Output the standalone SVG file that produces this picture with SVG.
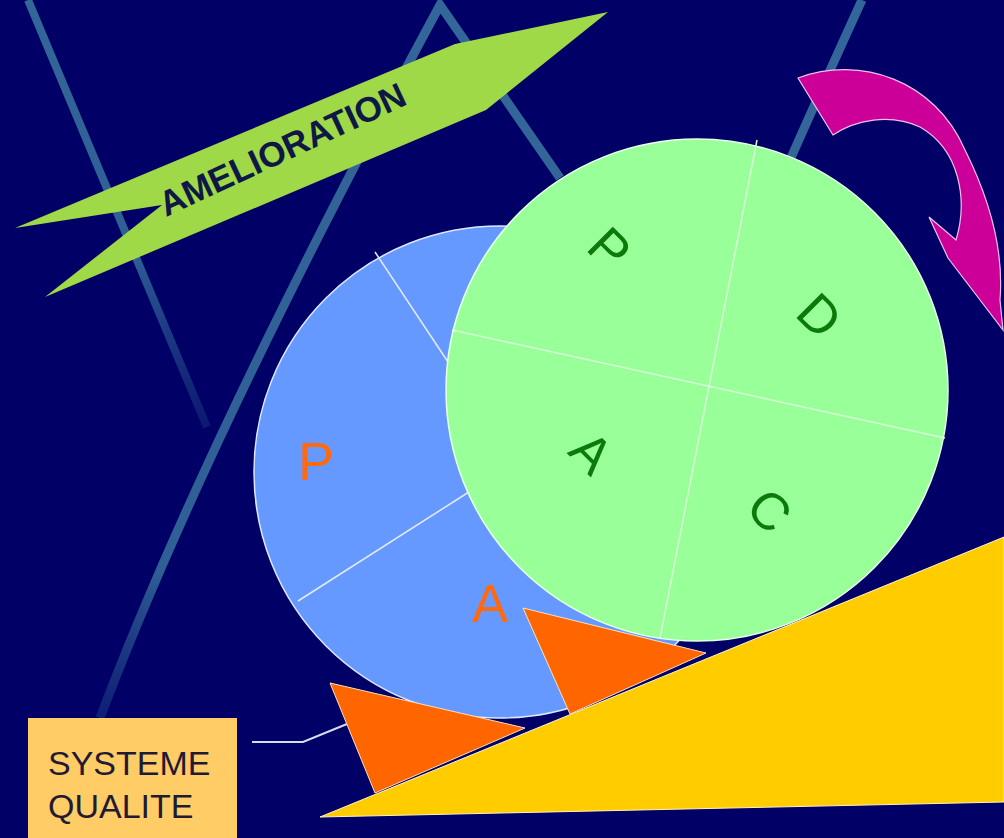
<svg xmlns="http://www.w3.org/2000/svg" width="1004" height="838" viewBox="0 0 1004 838">
<defs>
<style>
.bgline{fill:none;stroke:#336699;stroke-width:9}
.txt{font-family:'Liberation Sans',Arial,sans-serif}
.g{font-size:52px;fill:#0a7a0a;text-anchor:middle}
.o{font-size:54px;fill:#ff6a10;text-anchor:middle}
.wl{stroke:#e4ecff;stroke-width:1.5;fill:none}
.wg{stroke:#d8ffd8;stroke-width:1.5;fill:none}
.tri{fill:#ff6600;stroke:#ffe0c0;stroke-width:1}
</style>
<linearGradient id="fade1" gradientUnits="userSpaceOnUse" x1="28" y1="0" x2="207" y2="427">
<stop offset="0" stop-color="#336699"/>
<stop offset="0.6" stop-color="#2f5f95"/>
<stop offset="1" stop-color="#1d3d85" stop-opacity="0.4"/>
</linearGradient>
<linearGradient id="fade2" gradientUnits="userSpaceOnUse" x1="440" y1="0" x2="100" y2="718">
<stop offset="0" stop-color="#336699"/>
<stop offset="0.8" stop-color="#2f5f95"/>
<stop offset="1" stop-color="#1d3d85" stop-opacity="0.5"/>
</linearGradient>
</defs>
<rect id="background" x="0" y="0" width="1004" height="838" fill="#000066"/>
<g id="background-lines">
<path d="M28,0 L207,427" stroke="url(#fade1)" stroke-width="8" fill="none"/>
<path d="M100,718 Q205,440 440,5 L560,178" stroke="url(#fade2)" stroke-width="9" fill="none" stroke-linejoin="miter"/>
<path d="M862,0 Q830,70 790,160" class="bgline" stroke-width="8"/>
</g>
<g id="banner-amelioration">
<path d="M15,228 L455,44 L608,12 L486,110 L45,297 L162,205 Z" fill="#9fd948"/>
<text class="txt" transform="translate(166,217) rotate(-25)" font-size="35" font-weight="bold" fill="#0f1845">AMELIORATION</text>
</g>
<g id="blue-circle">
<circle cx="500" cy="472" r="246" fill="#6699ff" stroke="#dde8ff" stroke-width="1.5"/>
<line class="wl" x1="375" y1="252" x2="452" y2="368"/>
<line class="wl" x1="298" y1="601" x2="472" y2="490"/>
<text class="txt o" x="316" y="480">P</text>
<text class="txt o" x="490" y="622">A</text>
</g>
<g id="magenta-arrow">
<path d="M798,78 C860,55 935,80 965,150 C990,200 1004,250 1000,300 L1003,330 L948,258 L929,217 L956,240 C968,200 960,150 920,127 C890,113 855,120 833,135 Z" fill="#cc0099" stroke="#f0c0f0" stroke-width="1.2" stroke-linejoin="miter"/>
</g>
<g id="green-circle">
<circle cx="697" cy="390" r="251" fill="#99ff99" stroke="#e8ffe8" stroke-width="1.5"/>
<line class="wg" x1="757" y1="140" x2="660" y2="638"/>
<line class="wg" x1="452" y1="330" x2="945" y2="438"/>
<text class="txt g" transform="translate(610,248) rotate(45)" y="18.6">P</text>
<text class="txt g" transform="translate(820,315) rotate(45)" y="18.6">D</text>
<text class="txt g" transform="translate(592,452) rotate(45)" y="18.6">A</text>
<text class="txt g" transform="translate(770,510) rotate(45)" y="18.6">C</text>
</g>
<g id="wedge-left">
<polygon class="tri" points="330,683 525,728 375,793"/>
</g>
<g id="wedge-right">
<polygon class="tri" points="523,608 706,653 570,714"/>
</g>
<g id="slope">
<polygon points="320,817 1004,537 1004,802" fill="#ffcc00" stroke="#fff2c0" stroke-width="1"/>
</g>
<g id="connectors">
<polyline points="252,742 303,742 347,724" fill="none" stroke="#d8dcf0" stroke-width="2"/>
</g>
<g id="systeme-qualite">
<rect x="28" y="718" width="209" height="125" fill="#ffcc66"/>
<text class="txt" x="48" y="775" font-size="34" fill="#221a33">SYSTEME</text>
<text class="txt" x="48" y="818" font-size="34" fill="#221a33">QUALITE</text>
</g>
</svg>
